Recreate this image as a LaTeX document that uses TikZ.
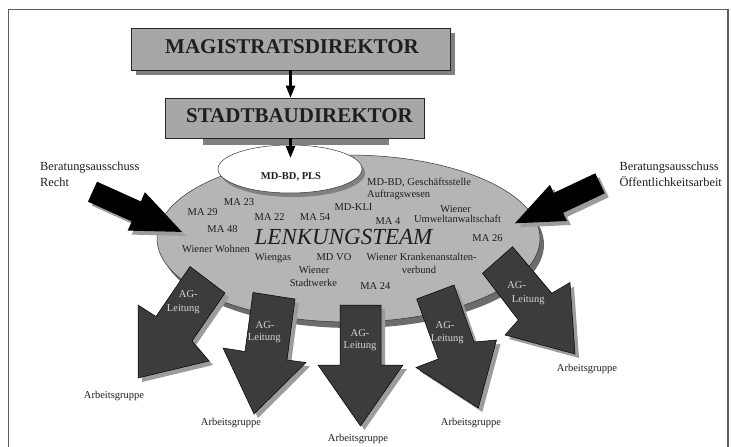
\documentclass[tikz,border=0pt]{standalone}
\usepackage{fontspec}
\setmainfont{Liberation Serif}
\usetikzlibrary{shapes.geometric,arrows.meta,calc}

\definecolor{boxgray}{HTML}{A7A7A7}
\definecolor{boxshadow}{HTML}{808080}
\definecolor{ellgray}{HTML}{B5B5B5}
\definecolor{ellshadow}{HTML}{6C6C6C}
\definecolor{arrdark}{HTML}{3C3C3C}
\definecolor{arrshadow}{HTML}{9C9C9C}
\definecolor{framegray}{HTML}{5E5E5E}
\definecolor{txt}{HTML}{1E1E1E}
\definecolor{agtxt}{HTML}{D6D6D6}

% block arrow outlines (pixel coordinates, y downwards)
\newcommand\blkA{(190,266.5) -- (225,293) -- (192,341) -- (209,361) -- (138,378) -- (138,305) -- (156,316.5) -- cycle}
\newcommand\blkB{(253,292.5) -- (295,299) -- (287,360) -- (306,362.5) -- (254,414) -- (223,348) -- (245,351.5) -- cycle}
\newcommand\blkC{(340,305) -- (381,305) -- (381,365) -- (403,365) -- (360.5,426) -- (318,365) -- (340,365) -- cycle}
\newcommand\blkD{(416.7,299) -- (454,285) -- (474,342) -- (496.5,340) -- (478.3,408) -- (416,367.5) -- (438.3,359) -- cycle}
\newcommand\blkE{(482.5,273.3) -- (512.5,246.7) -- (551.7,293.3) -- (570,282.5) -- (575,354) -- (505,335) -- (518.3,320) -- cycle}
\newcommand\blkL{(97,181.7) -- (140.8,201.4) -- (144.9,192.2) -- (181.9,231.9) -- (127.7,230.6) -- (131.8,221.4) -- (88,201.7) -- cycle}
\newcommand\blkR{(595.3,173.3) -- (553.7,192.9) -- (549.9,184.8) -- (514.9,223.3) -- (566.9,221.0) -- (563.1,212.9) -- (604.7,193.3) -- cycle}

\begin{document}
\begin{tikzpicture}[x=1pt,y=-1pt,
  headbox/.style={rectangle, draw=black!85, line width=0.6pt, fill=boxgray, inner sep=0pt},
  headtext/.style={font=\fontsize{21}{24}\selectfont\bfseries, text=txt, inner sep=0pt, anchor=base},
  conn/.style={line width=2.4pt, -{Triangle[width=9pt,length=12pt]}},
  intext/.style={font=\fontsize{10.5}{12}\selectfont, text=txt, inner sep=0pt, anchor=base},
  outtext/.style={font=\fontsize{12.4}{14}\selectfont, text=txt, inner sep=0pt, anchor=base west},
  agtext/.style={font=\fontsize{10.5}{12}\selectfont, text=agtxt, inner sep=0pt, anchor=base},
  grouptext/.style={font=\fontsize{10.5}{12}\selectfont, text=txt, inner sep=0pt, anchor=base},
  blockarrow/.style={fill=arrdark, draw=black, line width=0.5pt},
  blockshadow/.style={fill=arrshadow, shift={(4,4)}},
  blackarrow/.style={fill=black},
  blackshadow/.style={fill=arrshadow, shift={(4,4)}}
]
\useasboundingbox (0,0) rectangle (731,447);
\fill[white] (0,0) rectangle (731,447);

% frame
\draw[framegray, line width=1.5pt] (8.4,450) -- (8.4,9.3) -- (728,9.3) -- (728,450);

% head boxes
\fill[boxshadow] (136,33) rectangle (455,75);
\node[headbox, minimum width=319pt, minimum height=42pt] (mag) at (290.5,49) {};
\node[headtext] (magt) at (292,53.8) {MAGISTRATSDIREKTOR};
\fill[boxshadow] (203,130) rectangle (389,145);
\node[headbox, minimum width=258.5pt, minimum height=40pt] (sbd) at (294.75,118) {};
\node[headtext] (sbdt) at (299.5,122.5) {STADTBAUDIREKTOR};

% big ellipse
\fill[ellshadow] (352.5,244.5) ellipse [x radius=191.5, y radius=83.5];
\node[ellipse, draw=black!80, line width=0.5pt, fill=ellgray, minimum width=383pt, minimum height=167pt, inner sep=0pt] (team) at (348.5,238.5) {};

% white ellipse
\fill[boxshadow] (293,173) ellipse [x radius=72, y radius=24];
\node[ellipse, draw=black!80, line width=0.5pt, fill=white, minimum width=144pt, minimum height=48pt, inner sep=0pt] (pls) at (290,169) {};
\node[intext, font=\fontsize{10.5}{12}\selectfont\bfseries] (plst) at (291,179.3) {MD-BD, PLS};

% connectors
\coordinate (plstip) at (290.5,158);
\draw[conn] (mag.south) -- (mag.south |- sbd.north);
\draw[conn] (sbd.south -| mag.south) -- (plstip);

% members
\node[intext, anchor=base west] (geschs) at (367,185) {MD-BD, Geschäftsstelle};
\node[intext, anchor=base west] (auftr) at (367,197.3) {Auftragswesen};
\node[intext] (ma23) at (239,205.7) {MA 23};
\node[intext] (ma29) at (202.7,215) {MA 29};
\node[intext] (ma22) at (269.7,220.7) {MA 22};
\node[intext] (ma54) at (315,220.7) {MA 54};
\node[intext] (mdkli) at (353.5,210.7) {MD-KLI};
\node[intext] (ma4) at (388,224) {MA 4};
\node[intext] (wien1) at (455.5,212) {Wiener};
\node[intext] (umw) at (457.5,222.5) {Umweltanwaltschaft};
\node[intext] (ma48) at (222.5,232.7) {MA 48};
\node[intext, font=\fontsize{23}{26}\selectfont\itshape] (lenk) at (343.5,244) {LENKUNGSTEAM};
\node[intext] (ma26) at (487.5,241.7) {MA 26};
\node[intext] (wohn) at (216,252.7) {Wiener Wohnen};
\node[intext] (gas) at (273,260.7) {Wiengas};
\node[intext] (mdvo) at (334,260.7) {MD VO};
\node[intext] (kav1) at (421.7,260.7) {Wiener Krankenanstalten-};
\node[intext] (kav2) at (419,273.3) {verbund};
\node[intext] (sw1) at (314,273.3) {Wiener};
\node[intext] (sw2) at (313.5,286.7) {Stadtwerke};
\node[intext] (ma24) at (375.3,289) {MA 24};

% incoming black arrows
\fill[blackshadow] \blkL;
\fill[blackarrow] \blkL;
\fill[blackshadow] \blkR;
\fill[blackarrow] \blkR;
\node[outtext] (bl1) at (40,170) {Beratungsausschuss};
\node[outtext] (bl2) at (40,186.7) {Recht};
\node[outtext] (br1) at (619.3,170) {Beratungsausschuss};
\node[outtext] (br2) at (619.3,186.7) {Öffentlichkeitsarbeit};

% outgoing block arrows
\fill[blockshadow] \blkA;
\draw[blockarrow] \blkA;
\fill[blockshadow] \blkB;
\draw[blockarrow] \blkB;
\fill[blockshadow] \blkC;
\draw[blockarrow] \blkC;
\fill[blockshadow] \blkD;
\draw[blockarrow] \blkD;
\fill[blockshadow] \blkE;
\draw[blockarrow] \blkE;

\node[agtext] (ag1a) at (188.3,297.8) {AG-};
\node[agtext] (ag1b) at (183.3,311) {Leitung};
\node[agtext] (ag2a) at (265,328.5) {AG-};
\node[agtext] (ag2b) at (264.3,340.5) {Leitung};
\node[agtext] (ag3a) at (360,336) {AG-};
\node[agtext] (ag3b) at (360,348) {Leitung};
\node[agtext] (ag4a) at (445,328.5) {AG-};
\node[agtext] (ag4b) at (447.3,341.5) {Leitung};
\node[agtext] (ag5a) at (516.7,288.5) {AG-};
\node[agtext] (ag5b) at (528.3,302.5) {Leitung};

\node[grouptext] (gr1) at (114,398) {Arbeitsgruppe};
\node[grouptext] (gr2) at (231,425.5) {Arbeitsgruppe};
\node[grouptext] (gr3) at (358,441) {Arbeitsgruppe};
\node[grouptext] (gr4) at (471,425) {Arbeitsgruppe};
\node[grouptext] (gr5) at (587,371) {Arbeitsgruppe};
\end{tikzpicture}
\end{document}
